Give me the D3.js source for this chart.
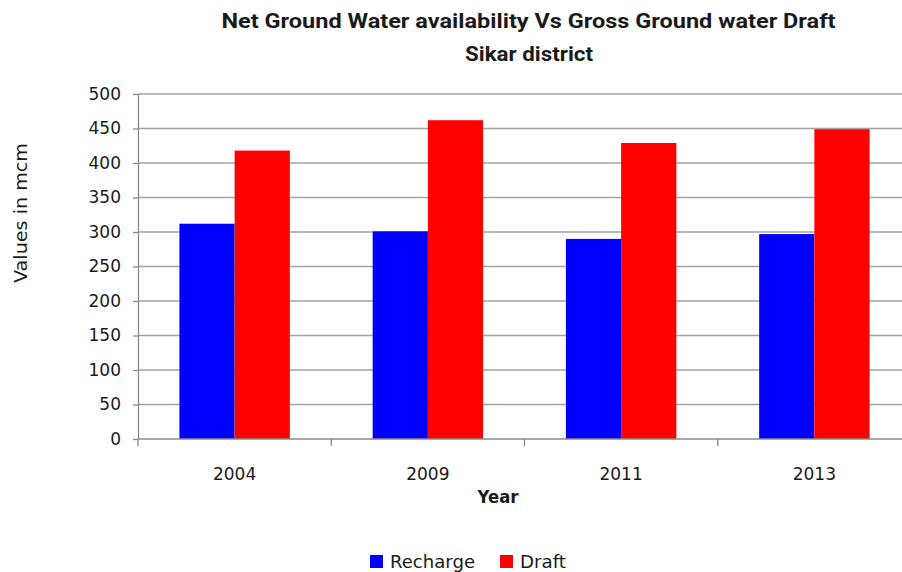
<!DOCTYPE html>
<html>
<head>
<meta charset="utf-8">
<script src="https://cdn.jsdelivr.net/npm/d3@7"></script>
<style>
  html, body { margin: 0; padding: 0; background: #fff; }
  svg { display: block; }
  text { font-family: "DejaVu Sans", sans-serif; fill: #1a1a1a; }
  .title { font-family: Roboto, "DejaVu Sans", sans-serif; font-weight: bold; }
</style>
</head>
<body>
<div id="chart"></div>
<script>
// Sikar district: ground water balance (million cubic metres)
const years = ["2004", "2009", "2011", "2013"];
const recharge = [312, 301, 290, 297];
const draft = [418, 462, 429, 449];
const seriesNames = ["Recharge", "Draft"];
const seriesColors = ["#0000ff", "#ff0000"];
const yTicks = [0, 50, 100, 150, 200, 250, 300, 350, 400, 450, 500];

const W = 902, H = 572;
const plot = { left: 138, right: 911, top: 94, bottom: 439 };

const svg = d3.select("#chart").append("svg")
  .attr("width", W).attr("height", H);

const x0 = d3.scaleBand().domain(years)
  .range([plot.left, plot.right]).paddingInner(0).paddingOuter(0);
const x1 = d3.scaleBand().domain(seriesNames)
  .range([0, x0.bandwidth()]).paddingInner(0).paddingOuter(0.75);
const y = d3.scaleLinear().domain([0, 500]).range([plot.bottom, plot.top]);

// horizontal gridlines
svg.append("g").selectAll("line").data(yTicks.filter(d => d > 0)).join("line")
  .attr("x1", plot.left).attr("x2", plot.right)
  .attr("y1", d => y(d)).attr("y2", d => y(d))
  .attr("stroke", "#a3a3a3").attr("stroke-width", 1.3);

// bars
const rows = years.map((yr, i) => ({ year: yr, values: [recharge[i], draft[i]] }));
const groups = svg.append("g").selectAll("g").data(rows).join("g")
  .attr("transform", d => `translate(${x0(d.year)},0)`);
groups.selectAll("rect")
  .data(d => d.values.map((v, j) => ({ name: seriesNames[j], value: v, color: seriesColors[j] })))
  .join("rect")
  .attr("x", d => x1(d.name))
  .attr("width", x1.bandwidth())
  .attr("y", d => y(d.value))
  .attr("height", d => y(0) - y(d.value))
  .attr("fill", d => d.color);

// y axis
const yAxis = svg.append("g").attr("transform", `translate(${plot.left},0)`)
  .call(d3.axisLeft(y).tickValues(yTicks).tickSize(5).tickPadding(12).tickSizeOuter(0));
yAxis.select(".domain").attr("stroke", "#8a8a8a").attr("stroke-width", 1.3);
yAxis.selectAll(".tick line").attr("stroke", "#8a8a8a").attr("stroke-width", 1.3);
yAxis.selectAll(".tick text")
  .style("font-family", "'DejaVu Sans', sans-serif").style("font-size", "17px")
  .attr("fill", "#1a1a1a");

// x axis with ticks at category boundaries
svg.append("line")
  .attr("x1", plot.left).attr("x2", plot.right)
  .attr("y1", y(0)).attr("y2", y(0))
  .attr("stroke", "#8a8a8a").attr("stroke-width", 1.3);
const bounds = years.map(yr => x0(yr)).concat([plot.right]);
svg.append("g").selectAll("line").data(bounds).join("line")
  .attr("x1", d => d).attr("x2", d => d)
  .attr("y1", y(0)).attr("y2", y(0) + 7)
  .attr("stroke", "#8a8a8a").attr("stroke-width", 1.3);
svg.append("g").selectAll("text").data(years).join("text")
  .attr("x", d => x0(d) + x0.bandwidth() / 2)
  .attr("y", 480)
  .attr("text-anchor", "middle")
  .style("font-size", "17px")
  .text(d => d);

// axis titles
svg.append("text")
  .attr("x", 498).attr("y", 503)
  .attr("text-anchor", "middle")
  .style("font-size", "17.5px").style("font-weight", "bold")
  .attr("textLength", 41).attr("lengthAdjust", "spacingAndGlyphs")
  .text("Year");
svg.append("text")
  .attr("transform", "translate(27,213) rotate(-90)")
  .attr("text-anchor", "middle")
  .style("font-size", "18px")
  .attr("textLength", 140).attr("lengthAdjust", "spacingAndGlyphs")
  .text("Values in mcm");

// chart title
svg.append("text").attr("class", "title")
  .attr("x", 528.5).attr("y", 28)
  .attr("text-anchor", "middle")
  .style("font-size", "21px")
  .attr("textLength", 614).attr("lengthAdjust", "spacingAndGlyphs")
  .text("Net Ground Water availability  Vs Gross Ground water Draft");
svg.append("text").attr("class", "title")
  .attr("x", 529).attr("y", 61)
  .attr("text-anchor", "middle")
  .style("font-size", "20px")
  .attr("textLength", 128).attr("lengthAdjust", "spacingAndGlyphs")
  .text("Sikar district");

// legend
const legendItems = [
  { name: seriesNames[0], color: seriesColors[0], x: 370, textLen: 85 },
  { name: seriesNames[1], color: seriesColors[1], x: 500, textLen: 46 }
];
const lg = svg.append("g").selectAll("g").data(legendItems).join("g")
  .attr("transform", d => `translate(${d.x},0)`);
lg.append("rect")
  .attr("x", 0).attr("y", 555).attr("width", 13).attr("height", 13)
  .attr("fill", d => d.color);
lg.append("text")
  .attr("x", 20).attr("y", 567.5)
  .style("font-size", "18px")
  .attr("textLength", d => d.textLen).attr("lengthAdjust", "spacingAndGlyphs")
  .text(d => d.name);
</script>
</body>
</html>
